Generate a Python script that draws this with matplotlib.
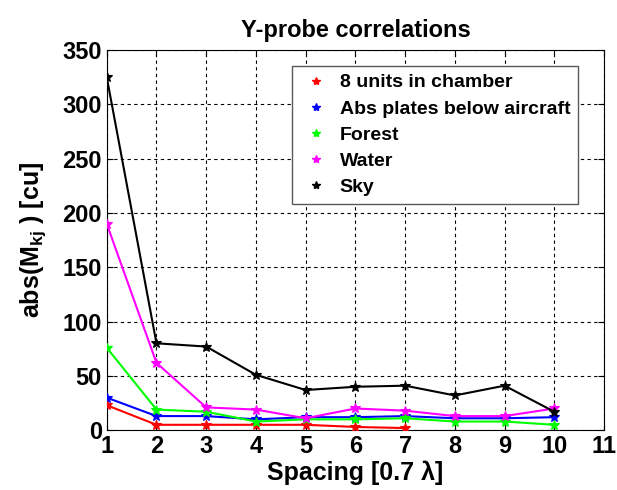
"""
Y-probe correlations: abs(M_kj) against element spacing for five scenes.
"""

import matplotlib
matplotlib.use("Agg")
import matplotlib.pyplot as plt
from matplotlib.lines import Line2D

# ---------------------------------------------------------------------------
# Data
# ---------------------------------------------------------------------------
spacing = [1, 2, 3, 4, 5, 6, 7, 8, 9, 10]
spacing_chamber = [1, 2, 3, 4, 5, 6, 7]

chamber = [23, 5, 5, 5, 5, 3, 2]
abs_plates = [30, 13, 13, 10, 12, 12, 13, 11, 11, 12]
forest = [76, 19, 17, 8, 10, 10, 11, 8, 8, 5]
water = [190, 62, 21, 19, 11, 20, 18, 13, 13, 20]
sky = [325, 80, 77, 51, 37, 40, 41, 32, 41, 17]

labels = ["8 units in chamber", "Abs plates below aircraft", "Forest", "Water", "Sky"]
colors = ["#ff0000", "#0000ff", "#00ff00", "#ff00ff", "#000000"]

x_ticks = [1, 2, 3, 4, 5, 6, 7, 8, 9, 10, 11]
y_ticks = [0, 50, 100, 150, 200, 250, 300, 350]

# ---------------------------------------------------------------------------
# Plot
# ---------------------------------------------------------------------------
plt.rcParams["font.family"] = ["Liberation Sans", "DejaVu Sans"]
plt.rcParams["font.weight"] = "bold"
plt.rcParams["mathtext.fontset"] = "custom"
plt.rcParams["mathtext.rm"] = "Liberation Sans:bold"
plt.rcParams["mathtext.it"] = "Liberation Sans:bold"

fig = plt.figure(figsize=(6.17, 4.90), dpi=100)
ax = fig.add_axes([0.173, 0.122, 0.806, 0.776])

series = [
    (spacing_chamber, chamber),
    (spacing, abs_plates),
    (spacing, forest),
    (spacing, water),
    (spacing, sky),
]
for (xs, ys), col in zip(series, colors):
    ax.plot(xs, ys, color=col, linewidth=1.5, marker="*", markersize=7,
            markeredgewidth=0.8, zorder=3)

ax.set_xlim(1, 11)
ax.set_ylim(0, 350)
ax.set_xticks(x_ticks)
ax.set_yticks(y_ticks)
ax.tick_params(direction="in", labelsize=17, top=True, right=True,
               length=4, width=0.8)
for lab in ax.get_xticklabels() + ax.get_yticklabels():
    lab.set_fontweight("bold")
ax.grid(True, color="black", linestyle=(0, (3, 3)), linewidth=0.8)
for sp in ax.spines.values():
    sp.set_linewidth(0.8)

ax.set_title("Y-probe correlations", fontsize=17, fontweight="bold", pad=9)
ax.set_xlabel("Spacing [0.7 λ]", fontsize=18, fontweight="bold", labelpad=2)
ax.set_ylabel(r"abs(M$_{\mathrm{kj}}$ ) [cu]", fontsize=18, fontweight="bold",
              labelpad=10)

# legend shows markers only
handles = [Line2D([0], [0], color=c, marker="*", linestyle="none",
                  markersize=6, label=l) for c, l in zip(colors, labels)]
leg = ax.legend(handles=handles, loc="upper right",
                bbox_to_anchor=(0.948, 0.958), fontsize=14, frameon=True,
                fancybox=False, edgecolor="0.35", framealpha=1,
                labelspacing=0.44, handletextpad=0.35, borderpad=0.4,
                handlelength=1.7, borderaxespad=0)
leg.get_frame().set_linewidth(1.0)
for t in leg.get_texts():
    t.set_fontweight("bold")

fig.savefig("out.png", dpi=100)
